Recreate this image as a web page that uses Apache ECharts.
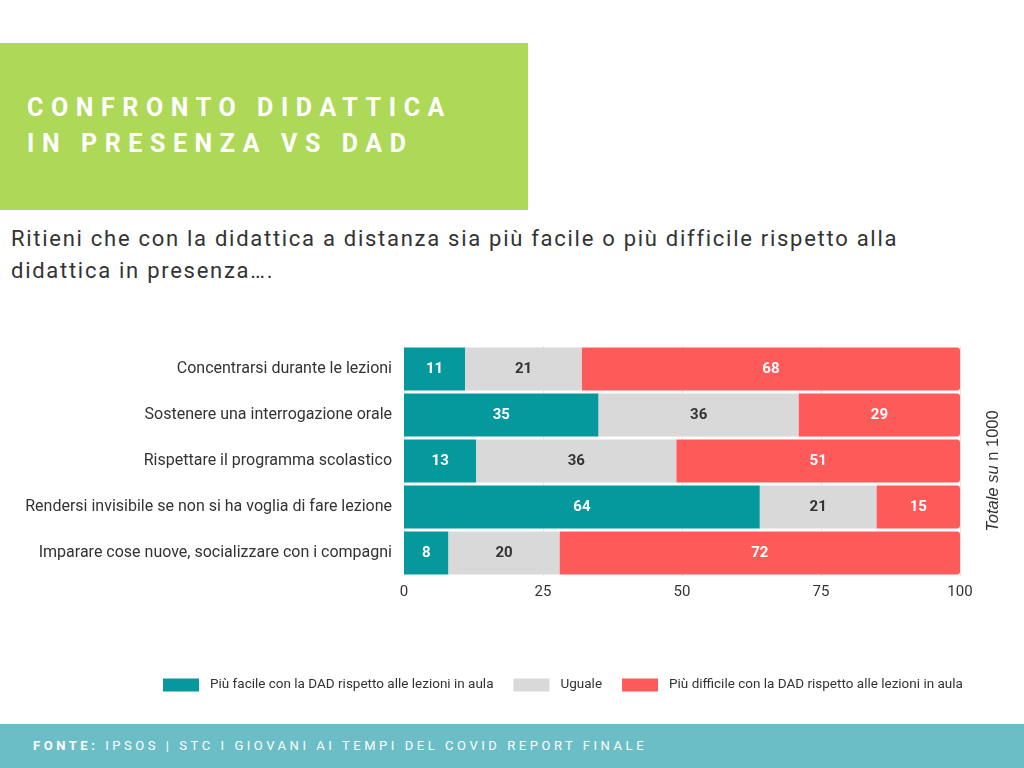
<!DOCTYPE html>
<html>
<head>
<meta charset="utf-8">
<script src="https://cdn.jsdelivr.net/npm/echarts@6/dist/echarts.min.js"></script>
<style>
  html, body { margin: 0; padding: 0; width: 1024px; height: 768px; background: #fff; overflow: hidden; font-family: Roboto, "Noto Sans", sans-serif; }
  #header { position: absolute; left: 0; top: 43px; width: 528px; height: 167px; background: #aed958; }
  #header div { position: absolute; left: 27px; color: #fff; font-weight: 700; font-size: 25px; letter-spacing: 7.6px; white-space: nowrap; line-height: 30px; }
  #sub { position: absolute; left: 11px; top: 223px; width: 1010px; color: #333; font-size: 22px; letter-spacing: 1.72px; line-height: 32px; white-space: nowrap; }
  #footer { position: absolute; left: 0; top: 724px; width: 1024px; height: 44px; background: #6bbec6; }
  #footer div { position: absolute; left: 33px; top: 14px; color: #fff; font-size: 13px; letter-spacing: 3.55px; white-space: nowrap; }
  #chart { position: absolute; left: 0; top: 0; width: 1024px; height: 768px; }
</style>
</head>
<body>
<div id="header"><div style="top:50px">CONFRONTO DIDATTICA</div><div style="top:86px">IN PRESENZA VS DAD</div></div>
<div id="sub">Ritieni che con la didattica a distanza sia più facile o più difficile rispetto alla<br>didattica in presenza….</div>
<div id="footer"><div><b>FONTE:</b> IPSOS | STC I GIOVANI AI TEMPI DEL COVID REPORT FINALE</div></div>
<div id="chart"></div>
<script>
const categories = [
  "Concentrarsi durante le lezioni",
  "Sostenere una interrogazione orale",
  "Rispettare il programma scolastico",
  "Rendersi invisibile se non si ha voglia di fare lezione",
  "Imparare cose nuove, socializzare con i compagni"
];
const seriesNames = [
  "Più facile con la DAD rispetto alle lezioni in aula",
  "Uguale",
  "Più difficile con la DAD rispetto alle lezioni in aula"
];
const piuFacile = [11, 35, 13, 64, 8];
const uguale = [21, 36, 36, 21, 20];
const piuDifficile = [68, 29, 51, 15, 72];
const xTicks = [0, 25, 50, 75, 100];

const colors = ["#05989d", "#d9d9d9", "#ff5a5a"];
const labelColors = ["#fff", "#333", "#fff"];
const datasets = [piuFacile, uguale, piuDifficile];

const chart = echarts.init(document.getElementById('chart'), null, { renderer: 'canvas' });
chart.setOption({
  backgroundColor: 'transparent',
  animation: false,
  grid: { left: 404, right: 64, top: 346, bottom: 192, containLabel: false },
  xAxis: {
    type: 'value', min: xTicks[0], max: xTicks[xTicks.length - 1], interval: 25,
    axisLine: { show: false }, axisTick: { show: false },
    splitLine: { show: true, lineStyle: { color: '#e6e6e6', width: 1 } },
    axisLabel: { color: '#333', fontSize: 15, fontFamily: 'Roboto', margin: 9 }
  },
  yAxis: {
    type: 'category', data: categories, inverse: true,
    axisLine: { show: false }, axisTick: { show: false },
    axisLabel: { color: '#333', fontSize: 16, fontFamily: 'Roboto', margin: 12 }
  },
  legend: {
    top: 673, left: 158, itemWidth: 36, itemHeight: 13, itemGap: 20,
    icon: 'rect',
    textStyle: { color: '#333', fontSize: 13.5, fontFamily: 'Roboto', padding: [0, 0, 0, 6] },
    data: seriesNames
  },
  graphic: [{
    type: 'text', x: 993, y: 471, rotation: Math.PI / 2,
    style: {
      text: '{i|Totale su }{n|n 1000}',
      rich: {
        i: { fontStyle: 'italic', fontSize: 16.5, fill: '#333', fontFamily: 'Liberation Sans' },
        n: { fontSize: 16.5, fill: '#333', fontFamily: 'Liberation Sans' }
      },
      align: 'center', verticalAlign: 'middle'
    }
  }],
  series: datasets.map((d, i) => ({
    name: seriesNames[i], type: 'bar', stack: 'total', data: d,
    barWidth: 43,
    itemStyle: { color: colors[i], borderRadius: i === 2 ? [0, 3, 3, 0] : 0 },
    label: {
      show: true, position: 'inside', color: labelColors[i],
      fontWeight: 'bold', fontSize: 15, fontFamily: 'Roboto'
    }
  }))
});
</script>
</body>
</html>
